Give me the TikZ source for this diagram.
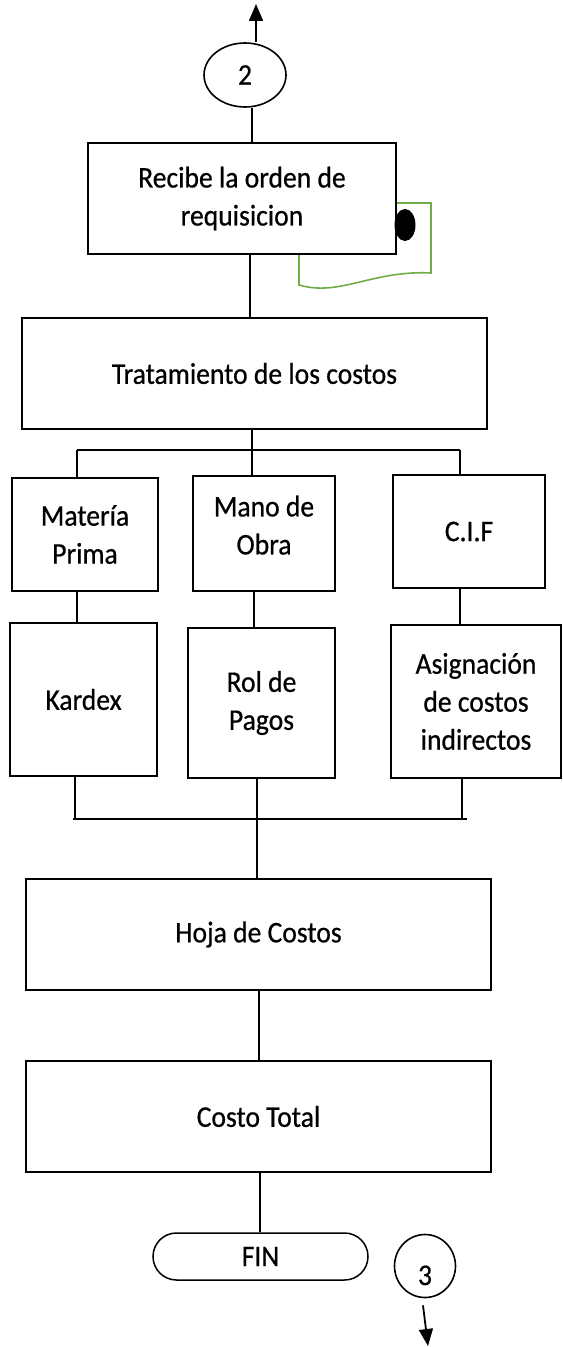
\documentclass[tikz,border=0pt]{standalone}
\usepackage{fontspec}
\setmainfont{Carlito}[FakeStretch=0.92,FakeBold=0.6]
\usetikzlibrary{arrows.meta,shapes.geometric,shapes.misc}
\definecolor{docgreen}{RGB}{112,173,71}
\begin{document}
\begin{tikzpicture}[x=0.5pt,y=-0.5pt,
  txt/.style={font=\fontsize{15pt}{19pt}\selectfont},
  box/.style={draw,line width=1.1pt,fill=white,inner sep=0pt,align=center,txt},
  conn/.style={line width=0.9pt},
  tip/.style={-{Triangle[length=8.5pt,width=7pt]}}]
\useasboundingbox (0,0) rectangle (562,1347);
% column coordinates
\coordinate (x252) at (252,0);
\coordinate (x250) at (250,0);
\coordinate (x254) at (254,0);
\coordinate (x257) at (257,0);
\coordinate (x259) at (259,0);
\coordinate (x260) at (260,0);
\coordinate (x77) at (77,0);
\coordinate (x460) at (460,0);
\coordinate (topend) at (256,4);
\coordinate (botend) at (428,1346);
\coordinate (t1) at (77,450);
\coordinate (t2) at (460,450);
\coordinate (u1) at (73,819);
\coordinate (u2) at (467,819);
\coordinate (k1) at (75,819);
\coordinate (k3) at (462,819);
% document symbol behind first box
\draw[docgreen,line width=0.8pt] (299,285) .. controls (340,297) and (372,270) .. (431,273) -- (431,203) -- (299,203) -- cycle;
% nodes
\node[ellipse,draw,line width=0.8pt,minimum width=41pt,minimum height=32pt,inner sep=0pt,txt] (e2) at (245,75) {2};
\node[box,minimum width=154pt,minimum height=55.5pt] (b1) at (242,198.5) {Recibe la orden de\\requisicion};
\node[ellipse,fill=black,minimum width=10.5pt,minimum height=16pt,inner sep=0pt] (dot) at (405,225) {};
\node[box,minimum width=232.5pt,minimum height=55.5pt] (b2) at (254.5,373.5) {Tratamiento de los costos};
\node[box,minimum width=73pt,minimum height=56.5pt] (mp) at (85,534.5) {Matería\\Prima};
\node[box,minimum width=71pt,minimum height=57.5pt,text depth=8.5pt] (mo) at (264,533.5) {Mano de\\Obra};
\node[box,minimum width=76pt,minimum height=56.5pt] (cif) at (469,531.5) {C.I.F};
\node[box,minimum width=73.5pt,minimum height=76.5pt] (kx) at (83.5,699.5) {Kardex};
\node[box,minimum width=73.5pt,minimum height=75pt] (rol) at (261.5,703) {Rol de\\Pagos};
\node[box,minimum width=85pt,minimum height=76.5pt] (as) at (476,701.5) {Asignación\\de costos\\indirectos};
\node[box,minimum width=232.5pt,minimum height=55.5pt] (hoja) at (258.5,934.5) {Hoja de Costos};
\node[box,minimum width=232.5pt,minimum height=55.5pt] (ct) at (258.5,1116.5) {Costo Total};
\node[box,rounded rectangle,line width=0.75pt,minimum width=107.5pt,minimum height=23.5pt] (fin) at (260.5,1256.5) {FIN};
\node[ellipse,draw,line width=0.8pt,minimum width=30.5pt,minimum height=31.5pt,inner sep=0pt,txt,text height=19pt,text depth=0pt] (c3) at (425,1266) {3};
% connectors
\draw[conn,tip] (e2.north -| topend) -- (topend);
\draw[conn] (e2.south -| x252) -- (b1.north -| x252);
\draw[conn] (b1.south -| x250) -- (b2.north -| x250);
\draw[conn] (b2.south -| x252) -- (mo.north -| x252);
\draw[conn] (t1) -- (t2);
\draw[conn] (t1) -- (mp.north -| t1);
\draw[conn] (t2) -- (cif.north -| t2);
\draw[conn] (mp.south -| x77) -- (kx.north -| x77);
\draw[conn] (mo.south -| x254) -- (rol.north -| x254);
\draw[conn] (cif.south -| x460) -- (as.north -| x460);
\draw[conn] (u1) -- (u2);
\draw[conn] (kx.south -| k1) -- (k1);
\draw[conn] (as.south -| k3) -- (k3);
\draw[conn] (rol.south -| x257) -- (hoja.north -| x257);
\draw[conn] (hoja.south -| x259) -- (ct.north -| x259);
\draw[conn] (ct.south -| x260) -- (fin.north -| x260);
\draw[conn,tip] ([shift={(-2,7)}]c3.south) -- (botend);
\end{tikzpicture}
\end{document}
